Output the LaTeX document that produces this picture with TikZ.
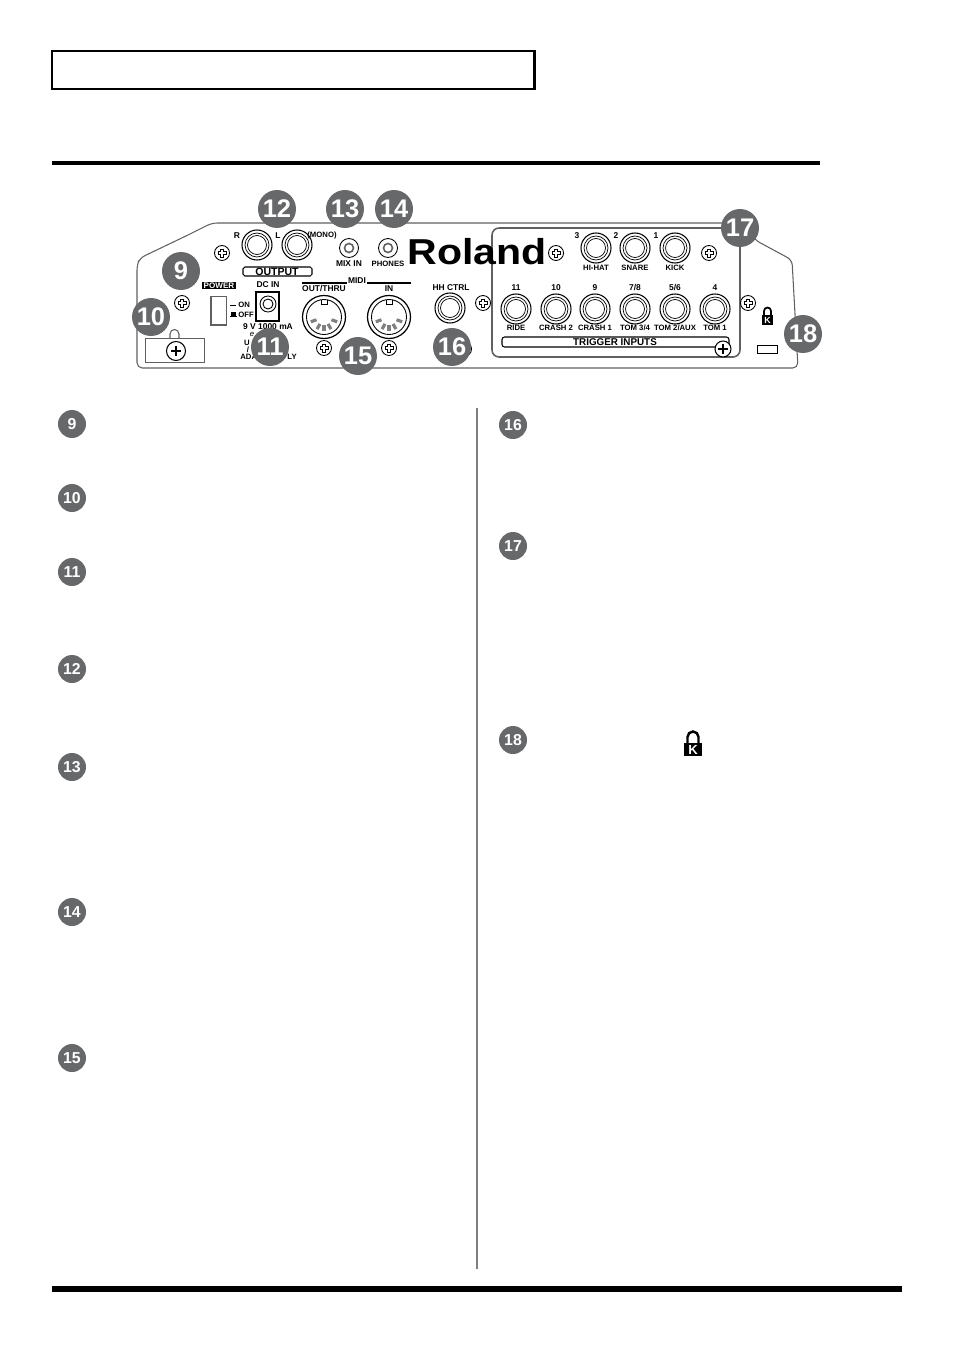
\documentclass[tikz,border=0pt]{standalone}
\usepackage{graphicx}
\usepackage{fontspec}
\setmainfont{Liberation Sans}
\definecolor{badgegray}{HTML}{67686A}
\definecolor{panelgray}{HTML}{606060}
\begin{document}
\begin{tikzpicture}[x=0.02cm,y=-0.02cm,
    bigbadge/.style={circle,fill=badgegray,text=white,inner sep=0pt,minimum size=0.76cm,font=\fontsize{14.5}{16}\selectfont\bfseries},
    smallbadge/.style={circle,fill=badgegray,text=white,inner sep=0pt,minimum size=0.56cm,font=\fontsize{9}{10}\selectfont\bfseries},
    lbl/.style={inner sep=0pt,font=\fontsize{4.4}{5}\selectfont\bfseries},
    numlbl/.style={inner sep=0pt,font=\fontsize{4.8}{5}\selectfont\bfseries}]
    \useasboundingbox (0,0) rectangle (954,1348);

    % Page header and rules
    \draw[line width=1.7pt] (52,51) rectangle (534.5,89);
    \draw[line width=2pt] (52,163) -- (820,163);
    \draw[line width=3pt] (52,1289) -- (902,1289);
    \draw[line width=0.9pt,gray] (477,408) -- (477,1269);

    % Panel outline
    \draw[line width=0.6pt,panelgray,rounded corners=3pt]
        (137,368) -- (137,265) -- (140,258) -- (188,235) -- (212,223) -- (745,223)
        -- (755,240) -- (792,260) -- (798,368) -- cycle;

    % Trigger section frame
    \draw[line width=0.9pt,panelgray,rounded corners=4pt] (492,228) rectangle (740,357);
    \draw[line width=0.6pt,rounded corners=1.5pt] (502,337) rectangle (729,347);
    \node[lbl,font=\fontsize{5.6}{6}\selectfont\bfseries] (triggerlabel) at (615,342) {TRIGGER INPUTS};

    % Output jacks and small jacks
    \foreach \x/\y in {257/245,297/245,596/248,635/248,675/248,
                       516/309,556/309,595/309,635/309,675/309,715/309,450/308} {
        \draw[line width=0.6pt] (\x,\y) circle (15);
        \draw[line width=0.4pt] (\x,\y) circle (12);
        \draw[line width=0.4pt] (\x,\y) circle (9.5);
    }
    \foreach \x in {349,388} {
        \draw[line width=0.5pt] (\x,248) circle (9.5);
        \draw[line width=0.9pt,panelgray] (\x,248) circle (4.5);
    }

    % Screws
    \foreach \x/\y in {222/253,182/303,324/348,389/348,556/253,709/253,483/303,748/303,464/349} {
        \draw[line width=0.5pt,fill=white] (\x,\y) circle (7.5);
        \draw[line width=2.2pt] (\x-4.5,\y) -- (\x+4.5,\y) (\x,\y-4.5) -- (\x,\y+4.5);
        \draw[line width=0.8pt,white] (\x-3.5,\y) -- (\x+3.5,\y) (\x,\y-3.5) -- (\x,\y+3.5);
    }
    \foreach \x/\y/\r in {723/349/8,176/351/9.5} {
        \draw[line width=0.6pt,fill=white] (\x,\y) circle (\r);
        \draw[line width=1.1pt] (\x-5,\y) -- (\x+5,\y) (\x,\y-5) -- (\x,\y+5);
    }

    % Output and upper labels
    \draw[line width=0.6pt,rounded corners=1pt] (243,267) rectangle (312,276);
    \node[lbl,font=\fontsize{6}{6}\selectfont\bfseries] (outputlabel) at (277,271.5) {OUTPUT};
    \node[numlbl] (rlabel) at (237,236) {R};
    \node[numlbl] (llabel) at (278,236) {L};
    \node[lbl] (monolabel) at (322,236) {(MONO)};
    \node[lbl,font=\fontsize{4.8}{5}\selectfont\bfseries] (mixlabel) at (349,264) {MIX IN};
    \node[lbl] (phoneslabel) at (388,264) {PHONES};
    \node[inner sep=0pt,font=\fontsize{20.5}{21}\selectfont\bfseries] (logo) at (477,252) {\scalebox{1.14}[1]{Roland}};

    % Trigger labels
    \foreach \x/\t in {596/HI-HAT,635/SNARE,675/KICK}
        \node[lbl] (up\t) at (\x,268) {\t};
    \foreach \x/\n in {577/3,616/2,656/1}
        \node[numlbl] (upnum\n) at (\x,236) {\n};
    \node[lbl] (ridelabel) at (516,328) {RIDE};
    \node[lbl] (crashtwo) at (556,328) {CRASH 2};
    \node[lbl] (crashone) at (595,328) {CRASH 1};
    \node[lbl] (tomthree) at (635,328) {TOM 3/4};
    \node[lbl] (tomtwo) at (675,328) {TOM 2/AUX};
    \node[lbl] (tomone) at (715,328) {TOM 1};
    \node[numlbl] (numa) at (516,288) {11};
    \node[numlbl] (numb) at (556,288) {10};
    \node[numlbl] (numc) at (595,288) {9};
    \node[numlbl] (numd) at (635,288) {7/8};
    \node[numlbl] (nume) at (675,288) {5/6};
    \node[numlbl] (numf) at (715,288) {4};

    % Power switch
    \node[fill=black,text=white,inner sep=0pt,minimum width=0.68cm,minimum height=0.14cm,
        font=\fontsize{4.6}{5}\selectfont\bfseries] (powerlabel) at (219,285.5) {POWER};
    \draw[line width=0.9pt,panelgray] (211,296.5) rectangle (226.5,325);
    \fill (230,304.5) rectangle (236,306);
    \fill (230.5,312) rectangle (235.5,316);
    \fill (229.5,316) rectangle (236.5,317);
    \node[lbl,anchor=west] (onlabel) at (238,305) {ON};
    \node[lbl,anchor=west] (offlabel) at (238,314.5) {OFF};

    % DC input
    \node[numlbl] (dclabel) at (268,285) {DC IN};
    \draw[line width=0.6pt] (256,292) rectangle (279,321);
    \draw[line width=0.5pt] (268,304) circle (8);
    \draw[line width=0.5pt] (268,304) circle (5);
    \node[numlbl] (voltlabel) at (268,327) {9 V 1000 mA};
    \node[lbl,font=\fontsize{4.4}{5}\selectfont\itshape] (elabel) at (252,334) {e};
    \node[lbl] (ulabel) at (247,343) {U};
    \node[lbl] (slashlabel) at (248,350) {/};
    \node[lbl,anchor=west] (adalabel) at (240,357) {ADA};
    \node[lbl,anchor=east] (lylabel) at (297,357) {LY};

    % Cable hook
    \draw[line width=0.6pt,panelgray] (170,338) -- (170,334) arc (180:360:4.5) -- (179,338);
    \draw[line width=0.5pt,panelgray] (145,338) rectangle (204,362);

    % MIDI
    \node[numlbl] (midilabel) at (357,281) {MIDI};
    \draw[line width=0.9pt] (302,283) -- (347,283);
    \draw[line width=0.9pt] (367,283) -- (411,283);
    \node[lbl,font=\fontsize{4.8}{5}\selectfont\bfseries] (outlabel) at (324,288.5) {OUT/THRU};
    \node[numlbl] (inlabel) at (389,288.5) {IN};
    \foreach \x in {324,389} {
        \draw[line width=0.7pt] (\x,317) circle (21.5);
        \draw[line width=0.5pt] (\x,317) circle (17.5);
        \draw[line width=0.5pt] (\x-3,300) -- (\x-3,304) -- (\x+3,304) -- (\x+3,300);
        \foreach \a in {20,60,90,120,160}
            \draw[line width=1.8pt,gray] ({\x+8*cos(\a)},{317+8*sin(\a)}) -- ({\x+14*cos(\a)},{317+14*sin(\a)});
    }

    \node[numlbl] (hhlabel) at (451,288) {HH CTRL};

    % Security slot
    \fill (762,315) rectangle (773,325);
    \draw[line width=1pt] (764,315) -- (764,311) arc (180:360:3.5) -- (771,315);
    \node[text=white,inner sep=0pt,font=\fontsize{5}{5}\selectfont\bfseries] (panelk) at (767.5,320) {K};
    \draw[line width=0.5pt] (757,345) rectangle (777,353);

    % Callouts on the panel
    \node[bigbadge] (big9) at (181,271) {9};
    \node[bigbadge] (big10) at (151,317) {10};
    \node[bigbadge] (big11) at (270,347) {11};
    \node[bigbadge] (big12) at (277,209) {12};
    \node[bigbadge] (big13) at (345,209) {13};
    \node[bigbadge] (big14) at (394,209) {14};
    \node[bigbadge] (big15) at (358,356) {15};
    \node[bigbadge] (big16) at (452,347) {16};
    \node[bigbadge] (big17) at (740,228) {17};
    \node[bigbadge] (big18) at (803,334) {18};

    % Item markers
    \foreach \n/\y in {9/424,10/498,11/572,12/669,13/767,14/912,15/1058}
        \node[smallbadge] (item\n) at (72,\y) {\n};
    \foreach \n/\y in {16/425,17/546,18/740}
        \node[smallbadge] (item\n) at (513,\y) {\n};

    % Lock symbol
    \fill (684,743) rectangle (702,756);
    \draw[line width=1.4pt] (687.5,743) -- (687.5,737) arc (180:360:5.5) -- (698.5,743);
    \node[text=white,inner sep=0pt,font=\fontsize{7.5}{8}\selectfont\bfseries] (lockk) at (693,749.5) {K};
\end{tikzpicture}
\end{document}
